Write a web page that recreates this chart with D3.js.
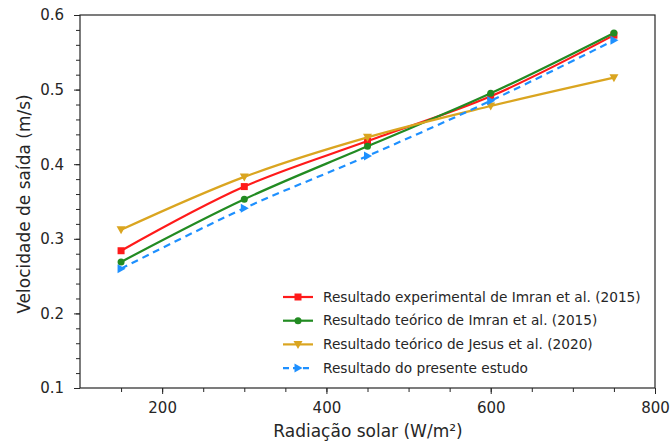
<!DOCTYPE html>
<html>
<head>
<meta charset="utf-8">
<script src="https://cdn.jsdelivr.net/npm/d3@7"></script>
<style>
  body { margin: 0; background: #fff; }
  text { font-family: "DejaVu Sans", sans-serif; fill: #262626; }
</style>
</head>
<body>
<svg id="chart" width="672" height="443"></svg>
<script>
// radiation values (W/m²)
const radiation = [150, 300, 450, 600, 750];

// outlet velocity (m/s) per series
const expImran = [0.284, 0.370, 0.431, 0.491, 0.573];
const teoImran = [0.269, 0.353, 0.424, 0.495, 0.576];
const teoJesus = [0.312, 0.383, 0.436, 0.478, 0.516];
const presente = [0.260, 0.341, 0.411, 0.485, 0.566];

const seriesNames = [
    "Resultado experimental de Imran et al. (2015)",
    "Resultado teórico de Imran et al. (2015)",
    "Resultado teórico de Jesus et al. (2020)",
    "Resultado do presente estudo"
];

const xTicks = [200, 400, 600, 800];
const yTicks = [0.1, 0.2, 0.3, 0.4, 0.5, 0.6];

let series = [
    {name: seriesNames[0], values: expImran, color: "#ff1a1a", marker: "square", dash: null},
    {name: seriesNames[1], values: teoImran, color: "#228b22", marker: "circle", dash: null},
    {name: seriesNames[2], values: teoJesus, color: "#daa520", marker: "tridown", dash: null},
    {name: seriesNames[3], values: presente, color: "#1e90ff", marker: "triright", dash: "7,5"}
];

let svg = d3.select("#chart");
let mLeft = 80, mRight = 655, mTop = 15, mBottom = 388;

let x = d3.scaleLinear().domain([100, 800]).range([mLeft, mRight]);
let y = d3.scaleLinear().domain([0.1, 0.6]).range([mBottom, mTop]);

// minor ticks
let xAxisMinor = d3.axisBottom(x).tickValues(d3.range(150, 800, 50)).tickSize(4).tickFormat("");
let yAxisMinor = d3.axisLeft(y).tickValues(d3.range(0.12, 0.6, 0.02)).tickSize(4).tickFormat("");
svg.append("g").attr("transform", "translate(0," + mBottom + ")").call(xAxisMinor)
    .call(g => g.select(".domain").remove());
svg.append("g").attr("transform", "translate(" + mLeft + ",0)").call(yAxisMinor)
    .call(g => g.select(".domain").remove());

// major ticks
let xAxis = d3.axisBottom(x).tickValues(xTicks).tickSize(6).tickPadding(8).tickFormat(d3.format("d"));
let yAxis = d3.axisLeft(y).tickValues(yTicks).tickSize(6).tickPadding(10).tickFormat(d3.format(".1f"));
svg.append("g").attr("transform", "translate(0," + mBottom + ")").call(xAxis)
    .call(g => g.select(".domain").remove())
    .selectAll("text").style("font-size", "15px");
svg.append("g").attr("transform", "translate(" + mLeft + ",0)").call(yAxis)
    .call(g => g.select(".domain").remove())
    .selectAll("text").style("font-size", "15px");

svg.selectAll(".tick line").attr("stroke", "#262626");

// frame
svg.append("rect")
    .attr("x", mLeft).attr("y", mTop)
    .attr("width", mRight - mLeft).attr("height", mBottom - mTop)
    .attr("fill", "none").attr("stroke", "#262626").attr("stroke-width", 1.2);

// axis labels
svg.append("text")
    .attr("x", 368).attr("y", 437)
    .attr("text-anchor", "middle").style("font-size", "17px")
    .text("Radiação solar (W/m²)");
svg.append("text")
    .attr("transform", "translate(30,204) rotate(-90)")
    .attr("text-anchor", "middle").style("font-size", "17px")
    .text("Velocidade de saída (m/s)");

function drawMarker(g, type, color) {
    if (type === "square") {
        g.append("rect").attr("x", -3.5).attr("y", -3.5).attr("width", 7).attr("height", 7).attr("fill", color);
    } else if (type === "circle") {
        g.append("circle").attr("r", 3.5).attr("fill", color);
    } else if (type === "tridown") {
        g.append("path").attr("d", "M-4.5,-3.5L4.5,-3.5L0,4.5Z").attr("fill", color);
    } else {
        g.append("path").attr("d", "M-3.5,-4.5L-3.5,4.5L4.5,0Z").attr("fill", color);
    }
}

let line = d3.line()
    .x(d => x(d[0]))
    .y(d => y(d[1]))
    .curve(d3.curveCatmullRom.alpha(0.5));

series.forEach(s => {
    let pts = radiation.map((r, i) => [r, s.values[i]]);
    svg.append("path")
        .datum(pts)
        .attr("d", line)
        .attr("fill", "none")
        .attr("stroke", s.color)
        .attr("stroke-width", 2.2)
        .attr("stroke-dasharray", s.dash);
    pts.forEach(p => {
        let g = svg.append("g").attr("transform", "translate(" + x(p[0]) + "," + y(p[1]) + ")");
        drawMarker(g, s.marker, s.color);
    });
});

// legend
let legend = svg.append("g").attr("transform", "translate(283,297)");
series.forEach((s, i) => {
    let row = legend.append("g").attr("transform", "translate(0," + (i * 23.7) + ")");
    row.append("line").attr("x1", 0).attr("x2", 30).attr("y1", 0).attr("y2", 0)
        .attr("stroke", s.color).attr("stroke-width", 2.2)
        .attr("stroke-dasharray", s.dash ? "6,4" : null);
    let g = row.append("g").attr("transform", "translate(15,0)");
    drawMarker(g, s.marker, s.color);
    row.append("text").attr("x", 40).attr("y", 0).attr("dy", "0.35em")
        .style("font-size", "13.7px").text(s.name);
});
</script>
</body>
</html>
